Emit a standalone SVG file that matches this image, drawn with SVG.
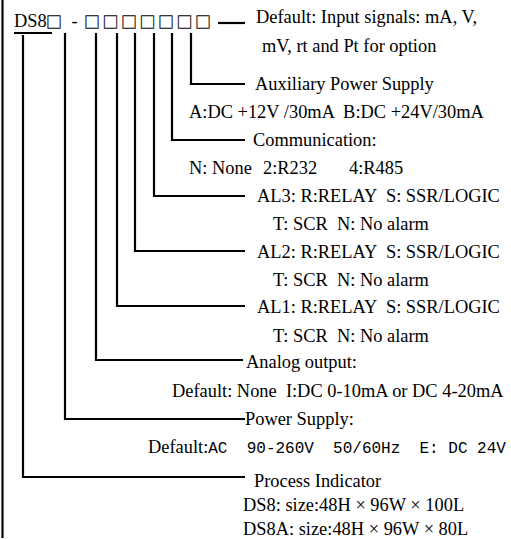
<svg xmlns="http://www.w3.org/2000/svg" width="511" height="539" viewBox="0 0 511 539">
<style>
.t{font-family:"Liberation Serif","Times New Roman",serif;font-size:18.4px;fill:#000;white-space:pre}
.m{font-family:"Liberation Mono","Courier New",monospace;font-size:16px;fill:#000;white-space:pre}
.b{font-family:"Noto Sans CJK SC","DejaVu Sans",sans-serif;font-size:16px;fill:#000;stroke:#000;stroke-width:0.3}
.ln{fill:none;stroke:#000;stroke-width:2.2}
</style>
<rect width="511" height="539" fill="#fff"/>
<g id="header" opacity="0.99">
<text y="27.5"><tspan class="t" x="14" y="27">DS8</tspan><tspan class="b" x="46" y="27.5">□</tspan><tspan class="t" x="71.5" y="27">-</tspan><tspan class="b" x="84 102.5 121 139.5 158 176.5 195" y="27.5">□□□□□□□</tspan></text>
</g>
<g id="connectors">
<path class="ln" d="M2.5,0 V538"/>
<path class="ln" d="M14,33 H52"/>
<path class="ln" d="M218,23 H245"/>
<path class="ln" d="M191,33 V84 H245"/>
<path class="ln" d="M172,33 V140 H245"/>
<path class="ln" d="M154,33 V196 H245"/>
<path class="ln" d="M135,33 V251 H245"/>
<path class="ln" d="M117,33 V306 H245"/>
<path class="ln" d="M96,33 V360 H243"/>
<path class="ln" d="M65,33 V419 H245"/>
<path class="ln" d="M23,35 V477 H245"/>
</g>
<g id="input">
<text class="t" x="256" y="23">Default: Input signals: mA, V,</text>
<text class="t" x="262" y="52">mV, rt and Pt for option</text>
</g>
<g id="aux">
<text class="t" x="255" y="90">Auxiliary Power Supply</text>
<text class="t" x="189" y="118">A:DC +12V /30mA  B:DC +24V/30mA</text>
</g>
<g id="comm">
<text class="t" x="253" y="146">Communication:</text>
<text class="t" x="189" y="174">N: None   <tspan x="263">2:R232</tspan><tspan x="349">4:R485</tspan></text>
</g>
<g id="al3">
<text class="t" x="257" y="202">AL3: R:RELAY  S: SSR/LOGIC</text>
<text class="t" x="273" y="230">T: SCR  N: No alarm</text>
</g>
<g id="al2">
<text class="t" x="257" y="258">AL2: R:RELAY  S: SSR/LOGIC</text>
<text class="t" x="273" y="286">T: SCR  N: No alarm</text>
</g>
<g id="al1">
<text class="t" x="257" y="313">AL1: R:RELAY  S: SSR/LOGIC</text>
<text class="t" x="273" y="342">T: SCR  N: No alarm</text>
</g>
<g id="analog">
<text class="t" x="246" y="368">Analog output:</text>
<text class="t" x="172" y="397">Default: None  I:DC 0-10mA or DC 4-20mA</text>
</g>
<g id="power">
<text class="t" x="245" y="425">Power Supply:</text>
<text x="148" y="453"><tspan class="t">Default:</tspan><tspan class="m">AC  90-260V  50/60Hz  E: DC 24V</tspan></text>
</g>
<g id="process">
<text class="t" x="254" y="487">Process Indicator</text>
<text class="t" x="243" y="511">DS8: size:48H × 96W × 100L</text>
<text class="t" x="243" y="535">DS8A: size:48H × 96W × 80L</text>
</g>
</svg>
